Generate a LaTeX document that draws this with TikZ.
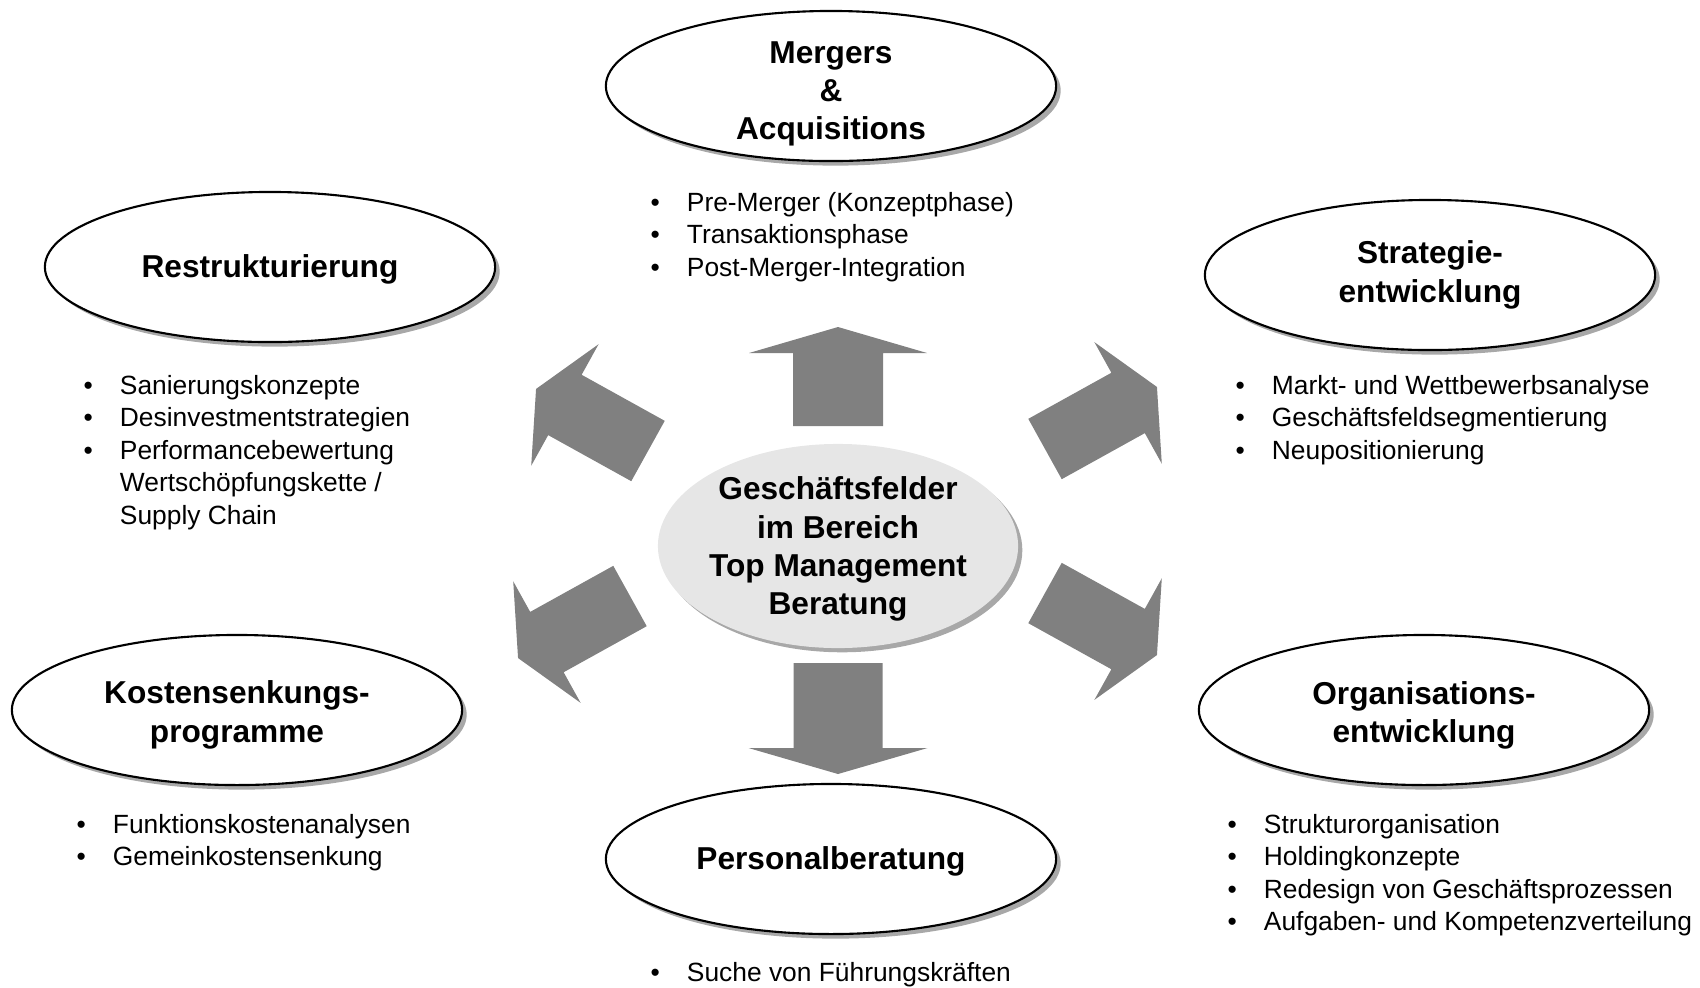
\documentclass[tikz,border=0pt]{standalone}
\usepackage{fontspec}
\setmainfont{Liberation Sans}
\usetikzlibrary{shapes.geometric,shadows}

\definecolor{arrowgray}{HTML}{808080}
\definecolor{hubgray}{HTML}{E6E6E6}
\definecolor{shadegray}{HTML}{A8A8A8}

\newcommand{\itm}{\makebox[10.3pt][l]{\textbullet}}
% rear midpoint, angle, shaft width, shaft length, head width, head length
\newcommand{\blockarrow}[6]{%
    \fill[arrowgray, shift={(#1)}, rotate=#2]
        (0,-#3/2) -- (#4,-#3/2) -- (#4,-#5/2) -- (#4+#6,0)
        -- (#4,#5/2) -- (#4,#3/2) -- (0,#3/2) -- cycle;}

\begin{document}
\begin{tikzpicture}[x=0.01cm, y=-0.01cm,
    field/.style={ellipse, draw, line width=0.6pt, fill=white,
        minimum width=4.5cm, minimum height=1.5cm, inner sep=0pt,
        general shadow={fill=shadegray, shadow xshift=1.3pt, shadow yshift=-1.3pt}},
    hub/.style={ellipse, fill=hubgray, minimum width=3.6cm, minimum height=2.04cm,
        inner sep=0pt,
        general shadow={fill=shadegray, shadow xshift=1.2pt, shadow yshift=-1.2pt}},
    title/.style={align=center, inner sep=0pt, font=\fontsize{9}{10.9}\selectfont\bfseries},
    list/.style={anchor=base west, inner sep=0pt, font=\fontsize{7.5}{9.25}\selectfont}]
    \useasboundingbox (0,0) rectangle (1700,987);

    \blockarrow{838,426}{90}{90}{73}{178}{26}
    \blockarrow{838,663}{-90}{89}{85}{179}{26}
    \blockarrow{648,451}{151}{69}{95}{139}{33}
    \blockarrow{1045,449}{29}{69}{95}{139}{33}
    \blockarrow{630,596}{209}{69}{95}{139}{33}
    \blockarrow{1045,593}{-29}{69}{95}{139}{33}

    \node[hub] (hub) at (838,546) {};
    \node[title, yshift=-0.9pt] (hub-t) at (hub) {Geschäftsfelder\\im Bereich\\Top Management\\Beratung};

    \node[field] (merg) at (831,86) {};
    \node[title, yshift=-2.2pt] (merg-t) at (merg) {Mergers\\\&\\Acquisitions};
    \node[list] (merg-l) at (650,211) {\begin{tabular}[t]{@{}l@{}}
        \itm Pre-Merger (Konzeptphase)\\
        \itm Transaktionsphase\\
        \itm Post-Merger-Integration\end{tabular}};

    \node[field] (restr) at (270,267) {};
    \node[title, yshift=-0.8pt] (restr-t) at (restr) {Restrukturierung};
    \node[list] (restr-l) at (83,394) {\begin{tabular}[t]{@{}l@{}}
        \itm Sanierungskonzepte\\
        \itm Desinvestmentstrategien\\
        \itm Performancebewertung\\
        \hspace{10.3pt}Wertschöpfungskette /\\
        \hspace{10.3pt}Supply Chain\end{tabular}};

    \node[field] (strat) at (1430,275) {};
    \node[title] (strat-t) at (strat) {Strategie-\\entwicklung};
    \node[list] (strat-l) at (1235,394) {\begin{tabular}[t]{@{}l@{}}
        \itm Markt- und Wettbewerbsanalyse\\
        \itm Geschäftsfeldsegmentierung\\
        \itm Neupositionierung\end{tabular}};

    \node[field] (kost) at (237,710) {};
    \node[title, yshift=-1.4pt] (kost-t) at (kost) {Kostensenkungs-\\programme};
    \node[list] (kost-l) at (76,833) {\begin{tabular}[t]{@{}l@{}}
        \itm Funktionskostenanalysen\\
        \itm Gemeinkostensenkung\end{tabular}};

    \node[field] (org) at (1424,710) {};
    \node[title, yshift=-1.5pt] (org-t) at (org) {Organisations-\\entwicklung};
    \node[list] (org-l) at (1227,833) {\begin{tabular}[t]{@{}l@{}}
        \itm Strukturorganisation\\
        \itm Holdingkonzepte\\
        \itm Redesign von Geschäftsprozessen\\
        \itm Aufgaben- und Kompetenzverteilung\end{tabular}};

    \node[field] (pers) at (831,859) {};
    \node[title, yshift=-0.6pt] (pers-t) at (pers) {Personalberatung};
    \node[list] (pers-l) at (650,981) {\begin{tabular}[t]{@{}l@{}}
        \itm Suche von Führungskräften\end{tabular}};
\end{tikzpicture}
\end{document}
